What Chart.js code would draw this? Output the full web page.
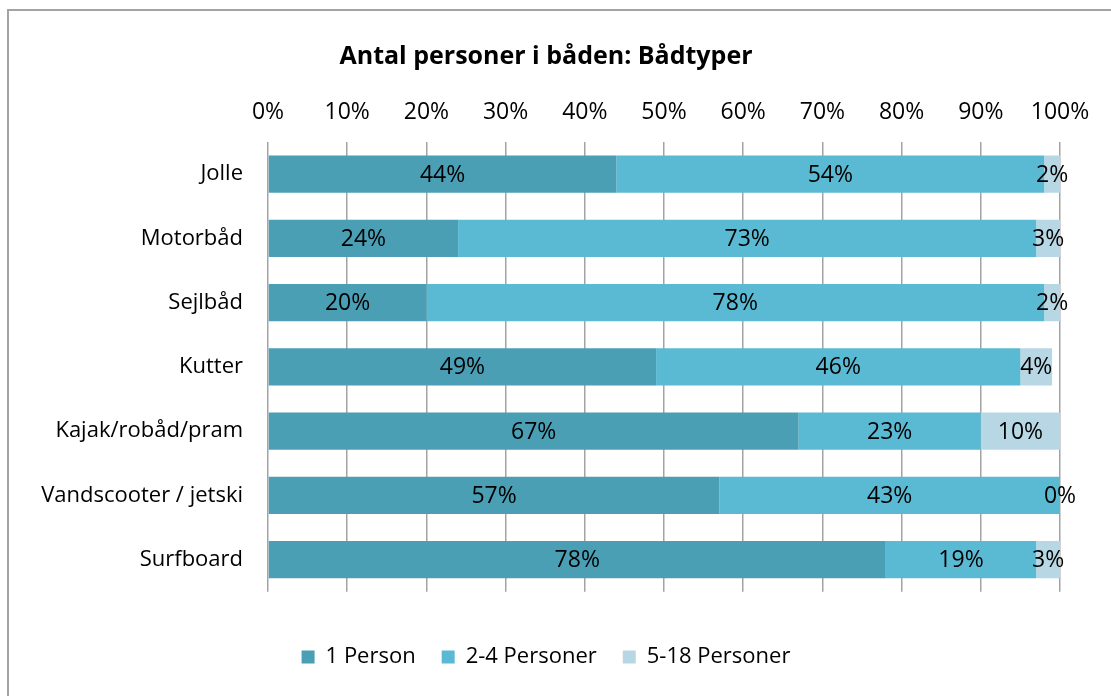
<!DOCTYPE html>
<html>
<head>
<meta charset="utf-8">
<script src="https://cdn.jsdelivr.net/npm/chart.js@4/dist/chart.umd.min.js"></script>
<style>
  body { margin: 0; background: #fff; overflow: hidden; }
  #wrap { position: relative; width: 1111px; height: 696px; }
  #frame { position: absolute; left: 7px; top: 9px; width: 1200px; height: 800px; border: 2px solid #a3a3a3; box-sizing: border-box; pointer-events: none; }
</style>
</head>
<body>
<div id="wrap">
  <canvas id="chart" width="1111" height="696"></canvas>
  <div id="frame"></div>
</div>
<script>
const boatTypes = ["Jolle", "Motorbåd", "Sejlbåd", "Kutter", "Kajak/robåd/pram", "Vandscooter / jetski", "Surfboard"];
const onePerson = [44, 24, 20, 49, 67, 57, 78];
const twoToFour = [54, 73, 78, 46, 23, 43, 19];
const fiveToEighteen = [2, 3, 2, 4, 10, 0, 3];
const seriesNames = ["1 Person", "2-4 Personer", "5-18 Personer"];
const chartTitle = "Antal personer i båden: Bådtyper";

const font = "'Open Sans', sans-serif";

// labels in the middle of each segment
const segmentLabels = {
  id: "segmentLabels",
  afterDatasetsDraw(chart) {
    const ctx = chart.ctx;
    ctx.save();
    ctx.font = "23px " + font;
    ctx.fillStyle = "#000";
    ctx.textAlign = "center";
    ctx.textBaseline = "middle";
    chart.data.datasets.forEach((ds, i) => {
      chart.getDatasetMeta(i).data.forEach((bar, j) => {
        ctx.fillText(ds.data[j] + "%", (bar.x + bar.base) / 2, bar.y + 1);
      });
    });
    ctx.restore();
  }
};

new Chart(document.getElementById("chart"), {
  type: "bar",
  data: {
    labels: boatTypes,
    datasets: [
      { label: seriesNames[0], data: onePerson, backgroundColor: "#4a9fb5" },
      { label: seriesNames[1], data: twoToFour, backgroundColor: "#5bbad3" },
      { label: seriesNames[2], data: fiveToEighteen, backgroundColor: "#b6d7e3" }
    ]
  },
  options: {
    indexAxis: "y",
    responsive: false,
    animation: false,
    layout: { padding: { left: 32, right: 51, top: 0, bottom: 18 } },
    datasets: { bar: { categoryPercentage: 1, barPercentage: 0.58, borderWidth: 0 } },
    scales: {
      x: {
        position: "top",
        stacked: true,
        min: 0,
        max: 100,
        ticks: {
          stepSize: 10,
          padding: 16,
          color: "#000",
          font: { size: 23, family: font },
          callback: v => v + "%"
        },
        grid: { color: "#a3a3a3", lineWidth: 1.5, drawTicks: false },
        border: { display: false },
        afterFit: s => { s.height = 70; }
      },
      y: {
        stacked: true,
        ticks: { padding: 17, color: "#000", font: { size: 22, family: font } },
        grid: { display: false },
        border: { display: false },
        afterFit: s => { s.width = 236; }
      }
    },
    plugins: {
      title: {
        display: true,
        text: chartTitle,
        color: "#000",
        font: { size: 25, weight: "bold", family: font, lineHeight: 1.2 },
        padding: { top: 42, bottom: 0 }
      },
      legend: {
        position: "bottom",
        title: { display: true, text: " ", font: { size: 1 }, padding: { top: 27, bottom: 0 } },
        labels: {
          boxWidth: 13,
          boxHeight: 13,
          padding: 26,
          color: "#000",
          font: { size: 22, family: font }
        }
      },
      tooltip: { enabled: false }
    }
  },
  plugins: [segmentLabels]
});
</script>
</body>
</html>
